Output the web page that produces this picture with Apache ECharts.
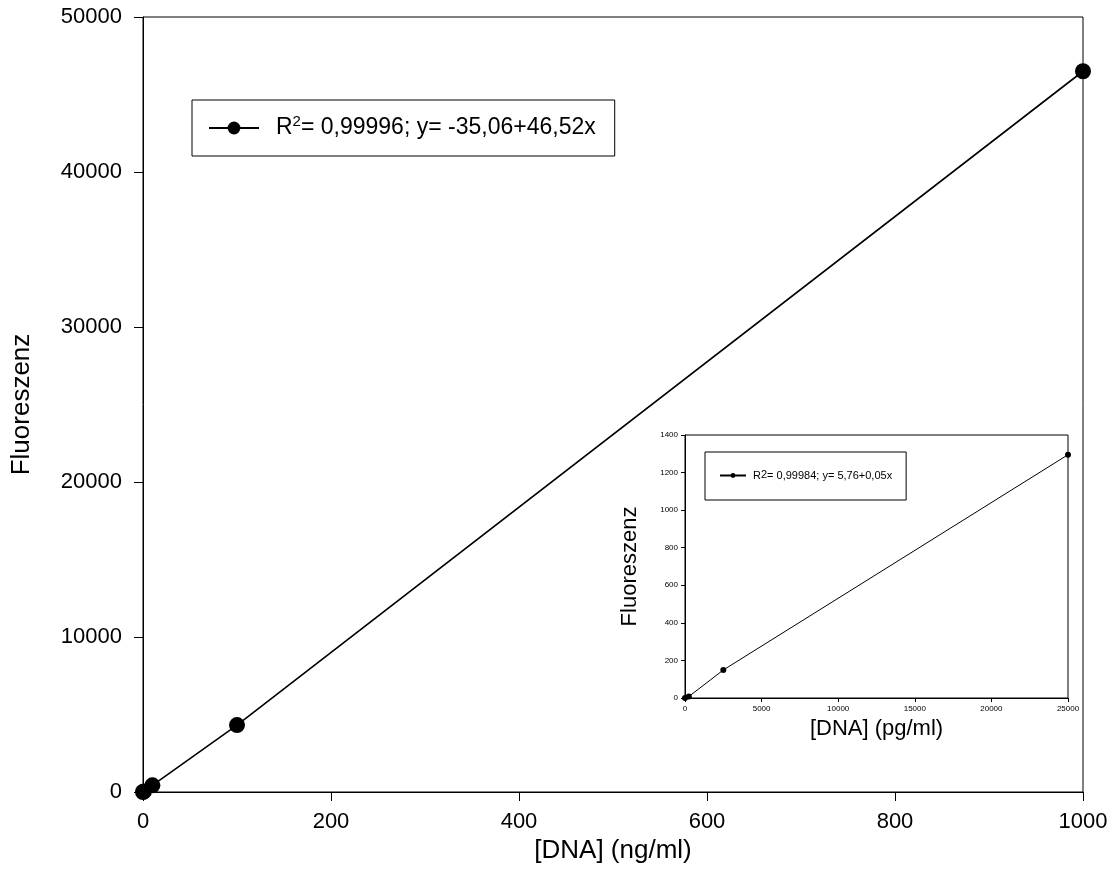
<!DOCTYPE html>
<html lang="de">
<head>
    <meta charset="utf-8"/>
    <title>Fluoreszenz vs. DNA</title>
    <script src="https://cdn.jsdelivr.net/npm/echarts@6/dist/echarts.min.js"></script>
    <style>
        html, body { margin: 0; padding: 0; background: #fff; }
        #chart { width: 1114px; height: 893px; }
    </style>
</head>
<body>
<div id="chart"></div>
<script>
    // Hauptdiagramm (ng/ml)
    var mainX = [0, 1, 10, 100, 1000];
    var mainY = [0, 40, 430, 4320, 46500];
    var mainName = 'R²= 0,99996; y= -35,06+46,52x';

    // Einsatz (pg/ml)
    var insetX = [0, 250, 2500, 25000];
    var insetY = [0, 8, 149, 1295];
    var insetName = 'R²= 0,99984; y= 5,76+0,05x';

    var font = 'Liberation Sans, Arial, sans-serif';

    function pairs(xs, ys) {
        var out = [];
        for (var i = 0; i < xs.length; i++) {
            out.push([xs[i], ys[i]]);
        }
        return out;
    }

    // hochgestellte 2 als Rich-Text
    function supFormatter(name) {
        return name.replace('²', '{s|2}');
    }

    function plain(v) {
        return String(v);
    }

    var chart = echarts.init(document.getElementById('chart'));
    var option = {
        backgroundColor: '#fff',
        animation: false,
        textStyle: { fontFamily: font, color: '#000' },
        grid: [
            { left: 143, top: 17, right: 31, bottom: 101, show: true, borderColor: '#000', borderWidth: 1 },
            { left: 685, top: 435, width: 383, height: 263, show: true, borderColor: '#000', borderWidth: 1, backgroundColor: '#fff' }
        ],
        legend: [
            {
                data: [mainName],
                formatter: supFormatter,
                left: 192, top: 100,
                padding: [14, 19, 14, 16],
                borderColor: '#000', borderWidth: 1,
                itemWidth: 50, itemHeight: 16,
                textStyle: {
                    fontSize: 23, color: '#000', fontFamily: font, padding: [0, 0, 0, 12], lineHeight: 28,
                    rich: { s: { fontSize: 15, fontFamily: font, color: '#000', verticalAlign: 'top', lineHeight: 10 } }
                }
            },
            {
                data: [insetName],
                formatter: supFormatter,
                left: 705, top: 452,
                padding: [17, 14, 18, 14],
                borderColor: '#000', borderWidth: 1,
                itemWidth: 26, itemHeight: 6,
                textStyle: {
                    fontSize: 11, color: '#000', fontFamily: font, padding: [0, 0, 0, 2], lineHeight: 13,
                    rich: { s: { fontSize: 11, fontFamily: font, color: '#000', verticalAlign: 'top', lineHeight: 9 } }
                }
            }
        ],
        xAxis: [
            {
                gridIndex: 0, type: 'value', min: 0, max: 1000, interval: 200,
                name: '[DNA] (ng/ml)', nameLocation: 'middle', nameGap: 43,
                nameTextStyle: { fontSize: 26, color: '#000', fontFamily: font },
                axisLine: { lineStyle: { color: '#000', width: 1 } },
                axisTick: { length: 9, lineStyle: { color: '#000' } },
                axisLabel: { fontSize: 22, color: '#000', margin: 19, fontFamily: font, formatter: plain },
                splitLine: { show: false }
            },
            {
                gridIndex: 1, type: 'value', min: 0, max: 25000, interval: 5000,
                name: '[DNA] (pg/ml)', nameLocation: 'middle', nameGap: 20,
                nameTextStyle: { fontSize: 22, color: '#000', fontFamily: font },
                axisLine: { lineStyle: { color: '#000', width: 1 } },
                axisTick: { length: 4, lineStyle: { color: '#000' } },
                axisLabel: { fontSize: 8, color: '#000', margin: 7, fontFamily: font, formatter: plain },
                splitLine: { show: false }
            }
        ],
        yAxis: [
            {
                gridIndex: 0, type: 'value', min: 0, max: 50000, interval: 10000,
                name: 'Fluoreszenz', nameLocation: 'middle', nameGap: 108,
                nameTextStyle: { fontSize: 26, color: '#000', fontFamily: font },
                axisLine: { show: true, lineStyle: { color: '#000', width: 1 } },
                axisTick: { show: true, length: 9, lineStyle: { color: '#000' } },
                axisLabel: { fontSize: 22, color: '#000', margin: 21, fontFamily: font, formatter: plain },
                splitLine: { show: false }
            },
            {
                gridIndex: 1, type: 'value', min: 0, max: 1400, interval: 200,
                name: 'Fluoreszenz', nameLocation: 'middle', nameGap: 44,
                nameTextStyle: { fontSize: 22, color: '#000', fontFamily: font },
                axisLine: { show: true, lineStyle: { color: '#000', width: 1 } },
                axisTick: { show: true, length: 4, lineStyle: { color: '#000' } },
                axisLabel: { fontSize: 8, color: '#000', margin: 7, fontFamily: font, formatter: plain },
                splitLine: { show: false }
            }
        ],
        series: [
            {
                name: mainName, type: 'line', xAxisIndex: 0, yAxisIndex: 0,
                data: pairs(mainX, mainY),
                symbol: 'circle', symbolSize: 16,
                itemStyle: { color: '#000' },
                lineStyle: { color: '#000', width: 1.6 },
                z: 3
            },
            {
                name: insetName, type: 'line', xAxisIndex: 1, yAxisIndex: 1,
                data: pairs(insetX, insetY),
                symbol: 'circle', symbolSize: 6,
                itemStyle: { color: '#000' },
                lineStyle: { color: '#000', width: 1 },
                z: 5
            }
        ]
    };
    chart.setOption(option);
</script>
</body>
</html>
